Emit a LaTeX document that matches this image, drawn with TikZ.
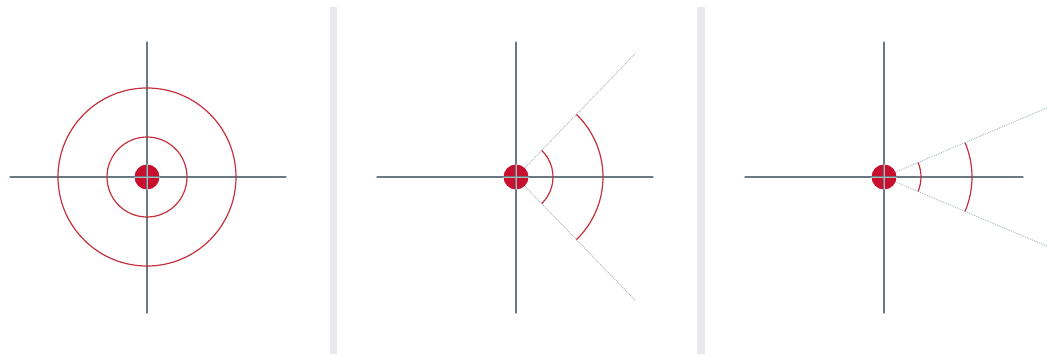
\documentclass[tikz,border=0pt]{standalone}
\usetikzlibrary{positioning}
\definecolor{axisgray}{HTML}{6A7A82}
\definecolor{ringred}{HTML}{C4303C}
\definecolor{dotred}{HTML}{C8102E}
\definecolor{raybl}{HTML}{A4B6C0}
\definecolor{sepgray}{HTML}{E8EAED}
\begin{document}
\begin{tikzpicture}[
x=1pt, y=1pt,
axis/.style={draw=axisgray, line width=1.1pt, line cap=round},
ring/.style={draw=ringred, line width=1.2pt},
ray/.style={draw=raybl, densely dotted, line width=0.9pt},
dot/.style={circle, fill=#1, inner sep=0pt, minimum size=25pt},
glint/.style={draw=white, opacity=0.45, line width=0.9pt}
]
\useasboundingbox (0,0) rectangle (1047,354);

% --- Vách ngăn giữa các khung ---
\fill[sepgray] (330,0) rectangle (337,347);
\fill[sepgray] (697,0) rectangle (705,347);

% --- Khung 1: sóng tròn ---
\node[dot=dotred] (src1) at (147,177) {};
\coordinate (l1) at (10,177);
\coordinate (r1) at (286,177);
\coordinate (t1) at (147,312);
\coordinate (b1) at (147,41);
\draw[axis] (l1) -- (r1);
\draw[axis] (t1) -- (b1);
\draw[glint] (src1.north) -- (src1.south) (src1.west) -- (src1.east);
\draw[ring] (src1.center) circle[radius=40];
\draw[ring] (src1.center) circle[radius=89];

% --- Khung 2: chùm rộng ---
\node[dot=dotred] (src2) at (516,177) {};
\coordinate (l2) at (377,177);
\coordinate (r2) at (653,177);
\coordinate (t2) at (516,312);
\coordinate (b2) at (516,41);
\path (src2.center) ++(46:172) coordinate (up2);
\path (src2.center) ++(-46:172) coordinate (dn2);
\draw[axis] (l2) -- (r2);
\draw[axis] (t2) -- (b2);
\draw[ray] (src2) -- (up2);
\draw[ray] (src2) -- (dn2);
\draw[glint] (src2.north) -- (src2.south) (src2.west) -- (src2.east);
\draw[ring] (src2.center) ++(-46:37) arc[start angle=-46, end angle=46, radius=37];
\draw[ring] (src2.center) ++(-46:87) arc[start angle=-46, end angle=46, radius=87];

% --- Khung 3: chùm hẹp ---
\node[dot=dotred] (src3) at (884,177) {};
\coordinate (l3) at (745,177);
\coordinate (r3) at (1023,177);
\coordinate (t3) at (884,312);
\coordinate (b3) at (884,41);
\path (src3.center) ++(23:177) coordinate (up3);
\path (src3.center) ++(-23:177) coordinate (dn3);
\draw[axis] (l3) -- (r3);
\draw[axis] (t3) -- (b3);
\draw[ray] (src3) -- (up3);
\draw[ray] (src3) -- (dn3);
\draw[glint] (src3.north) -- (src3.south) (src3.west) -- (src3.east);
\draw[ring] (src3.center) ++(-23:37) arc[start angle=-23, end angle=23, radius=37];
\draw[ring] (src3.center) ++(-23:88) arc[start angle=-23, end angle=23, radius=88];

\end{tikzpicture}
\end{document}
